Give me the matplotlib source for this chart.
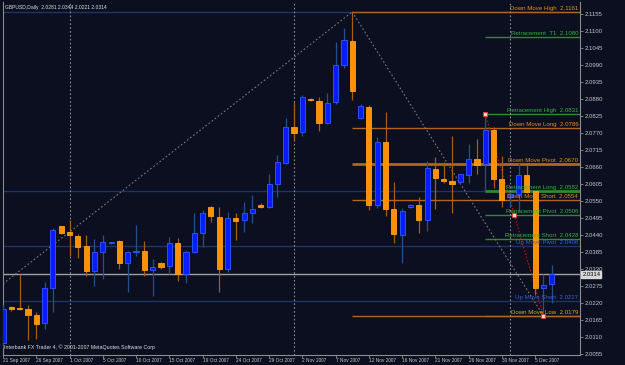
import numpy as np
import matplotlib
matplotlib.use("Agg")
import matplotlib.pyplot as plt
import matplotlib.transforms as mtransforms

# GBPUSD daily bars, 21 Sep 2007 .. 6 Dec 2007 (index 0 .. 66)
opens = [2.0092, 2.0209, 2.0206, 2.0201, 2.0181, 2.0155, 2.0269, 2.0468, 2.0451, 2.0438,
         2.0405, 2.0323, 2.0385, 2.0414, 2.0420, 2.0350, 2.0386, 2.0388, 2.0327, 2.0349,
         2.0341, 2.0414, 2.0314, 2.0386, 2.0446, 2.0530, 2.0500, 2.0330, 2.0495, 2.0489,
         2.0511, 2.0538, 2.0530, 2.0605, 2.0674, 2.0789, 2.0773, 2.0881, 2.0874, 2.0802,
         2.0869, 2.0988, 2.1068, 2.0818, 2.0853, 2.0538, 2.0740, 2.0525, 2.0441, 2.0531,
         2.0538, 2.0489, 2.0653, 2.0621, 2.0615, 2.0613, 2.0635, 2.0685, 2.0669, 2.0780,
         2.0622, 2.0564, 2.0572, 2.0635, 2.0583, 2.0269, 2.0281]
highs = [2.0215, 2.0212, 2.0315, 2.0215, 2.0193, 2.0290, 2.0464, 2.0471, 2.0489, 2.0443,
         2.0441, 2.0427, 2.0441, 2.0419, 2.0425, 2.0390, 2.0473, 2.0421, 2.0363, 2.0354,
         2.0433, 2.0432, 2.0392, 2.0512, 2.0521, 2.0534, 2.0532, 2.0514, 2.0511, 2.0548,
         2.0570, 2.0545, 2.0638, 2.0699, 2.0818, 2.0871, 2.0892, 2.0883, 2.0887, 2.0900,
         2.1065, 2.1108, 2.1161, 2.0864, 2.0861, 2.0756, 2.0839, 2.0613, 2.0529, 2.0540,
         2.0563, 2.0680, 2.0692, 2.0677, 2.0761, 2.0639, 2.0735, 2.0751, 2.0831, 2.0789,
         2.0696, 2.0579, 2.0672, 2.0667, 2.0586, 2.0315, 2.0344]
lows = [2.0076, 2.0196, 2.0199, 2.0102, 2.0105, 2.0136, 2.0193, 2.0443, 2.0373, 2.0366,
        2.0308, 2.0276, 2.0299, 2.0412, 2.0330, 2.0256, 2.0373, 2.0308, 2.0245, 2.0332,
        2.0314, 2.0292, 2.0287, 2.0382, 2.0403, 2.0484, 2.0258, 2.0322, 2.0425, 2.0450,
        2.0479, 2.0527, 2.0527, 2.0564, 2.0670, 2.0748, 2.0761, 2.0872, 2.0777, 2.0799,
        2.0863, 2.0979, 2.0875, 2.0814, 2.0521, 2.0527, 2.0502, 2.0416, 2.0351, 2.0529,
        2.0448, 2.0454, 2.0524, 2.0608, 2.0513, 2.0610, 2.0610, 2.0638, 2.0581, 2.0592,
        2.0530, 2.0532, 2.0518, 2.0575, 2.0247, 2.0179, 2.0221]
closes = [2.0202, 2.0202, 2.0202, 2.0181, 2.0153, 2.0269, 2.0457, 2.0448, 2.0439, 2.0403,
          2.0325, 2.0385, 2.0417, 2.0418, 2.0349, 2.0386, 2.0390, 2.0328, 2.0336, 2.0338,
          2.0414, 2.0314, 2.0386, 2.0446, 2.0511, 2.0503, 2.0330, 2.0494, 2.0487, 2.0511,
          2.0524, 2.0532, 2.0605, 2.0676, 2.0789, 2.0771, 2.0887, 2.0875, 2.0803, 2.0866,
          2.0988, 2.1071, 2.0904, 2.0858, 2.0538, 2.0740, 2.0524, 2.0443, 2.0518, 2.0538,
          2.0489, 2.0656, 2.0624, 2.0615, 2.0605, 2.0637, 2.0685, 2.0667, 2.0780, 2.0622,
          2.0554, 2.0573, 2.0635, 2.0581, 2.0269, 2.0279, 2.0314]

date_ticks = [0, 4, 8, 12, 16, 20, 24, 28, 32, 36, 40, 44, 48, 52, 56, 60, 64]
date_labels = ["21 Sep 2007", "26 Sep 2007", "1 Oct 2007", "5 Oct 2007", "10 Oct 2007",
               "15 Oct 2007", "19 Oct 2007", "24 Oct 2007", "29 Oct 2007", "2 Nov 2007",
               "7 Nov 2007", "12 Nov 2007", "16 Nov 2007", "21 Nov 2007", "26 Nov 2007",
               "30 Nov 2007", "5 Dec 2007"]
month_bars = [8, 35, 61]

price_ticks = [2.0055 + 0.0055 * k for k in range(21)]

# level lines; labels of hidden duplicates (Up Move High/Long, Retracement Low) are
# covered in the original, so only the visible ones get text
up_prices = [2.1161, 2.0584, 2.0406, 2.0227]
up_names = ["", "", "Up Move Pivot", "Up Move Short"]
down_names = ["Down Move High", "Down Move Long", "Down Move Pivot", "Down Move Short", "Down Move Low"]
down_prices = [2.1161, 2.0786, 2.0670, 2.0554, 2.0179]
retr_names = ["Retracement  T1", "Retracement High", "Retracement Long",
              "Retracement Pivot", "Retracement Short", ""]
retr_prices = [2.1080, 2.0831, 2.0582, 2.0506, 2.0428, 2.0179]

up_start, down_start, retr_start = 42, 42, 58
last_price = 2.0314
header = "GBPUSD,Daily  2.0281 2.0344 2.0221 2.0314"
footer = "Interbank FX Trader 4, \u00a9 2001-2007 MetaQuotes Software Corp"

bg = "#0b0f20"
bull, bull_edge, bull_wick = "#0a1cff", "#2a5cff", "#24508f"
bear, bear_edge, bear_wick = "#ff9000", "#ffa020", "#a85c0c"
c_down_line, c_down_txt = "#b3651c", "#e8901a"
c_retr_line, c_retr_txt = "#2f8a2f", "#3cb043"
c_up_line, c_up_txt = "#1f3566", "#3a62d0"
grey = "#8c8c8c"

plt.rcParams["font.family"] = ["Liberation Sans", "DejaVu Sans"]

fig = plt.figure(figsize=(6.25, 3.65), dpi=100, facecolor=bg)
ax = fig.add_axes([3 / 625, 10 / 365, 577 / 625, 353 / 365], facecolor=bg)

o, h, l, c = map(np.array, (opens, highs, lows, closes))
x = np.arange(len(o))
up = c >= o

lab_tr = mtransforms.blended_transform_factory(ax.transAxes, ax.transData)

# horizontal level lines
for p in up_prices:
    ax.axhline(p, color=c_up_line, lw=1, zorder=1)
ax.axhline(last_price, color="#a0a0a0", lw=1, zorder=1)
for name, p in zip(retr_names, retr_prices):
    lw = 2 if "Long" in name else 1
    ax.hlines(p, retr_start, 80, color=c_retr_line, lw=lw, zorder=1)
for name, p in zip(down_names, down_prices):
    lw = 2 if "Pivot" in name else 1
    ax.hlines(p, down_start, 80, color=c_down_line, lw=lw, zorder=1)

# month separators
for b in month_bars:
    ax.axvline(b, color=grey, lw=0.8, ls=(0, (1.5, 2)), zorder=1)

# trend lines
ax.plot([0, up_start], [2.0283, highs[up_start]], color="#7a7a7a", lw=0.8,
        ls=(0, (1.5, 2)), zorder=2)
ax.plot([down_start, 65], [highs[down_start], lows[65]], color="#7a7a7a", lw=0.8,
        ls=(0, (1.5, 2)), zorder=2)
ax.plot([retr_start, 65], [highs[retr_start], lows[65]], color="#c01010", lw=0.9,
        ls=(0, (1.2, 1.5)), zorder=2)
ax.plot([retr_start, 61.45, 65], [highs[retr_start], 2.0506, lows[65]], ls="none",
        marker="s", ms=2.5, mfc="#ffd0d0", mec="#ff3030", mew=0.6, zorder=6)

# candles
body_lo = np.minimum(o, c)
body_h = np.maximum(np.abs(c - o), 0.00012)
ax.vlines(x[up], l[up], h[up], color=bull_wick, lw=0.9, zorder=3)
ax.vlines(x[~up], l[~up], h[~up], color=bear_wick, lw=0.9, zorder=3)
ax.bar(x[up], body_h[up], bottom=body_lo[up], width=0.62, color=bull,
       edgecolor=bull_edge, lw=0.6, zorder=4)
ax.bar(x[~up], body_h[~up], bottom=body_lo[~up], width=0.62, color=bear,
       edgecolor=bear_edge, lw=0.6, zorder=4)

# level labels
def level_label(name, p, col):
    if name:
        ax.text(0.997, p + 0.00025, "%s  %.4f" % (name, p), transform=lab_tr,
                ha="right", va="bottom", fontsize=4.4, color=col, zorder=7)

for name, p in zip(up_names, up_prices):
    level_label(name, p, c_up_txt)
for name, p in zip(retr_names, retr_prices):
    level_label(name, p, c_retr_txt)
for name, p in zip(down_names, down_prices):
    level_label(name, p, "#d8b020" if "Low" in name else c_down_txt)

ax.text(0.003, 0.992, header, transform=ax.transAxes, ha="left", va="top",
        fontsize=3.6, color="#e0e0e0")
ax.text(0.001, 0.014, footer, transform=ax.transAxes, ha="left", va="bottom",
        fontsize=3.8, color="#e0e0e0")

# current price box on the axis
ax.text(1.004, last_price, "%.4f" % last_price, transform=lab_tr, ha="left",
        va="center", fontsize=4.2, color="#000000",
        bbox=dict(boxstyle="square,pad=0.15", fc="#d8d8d8", ec="#d8d8d8"))

ax.set_xlim(0.12, 69.39)
ax.set_ylim(2.0053, 2.1193)

ax.yaxis.tick_right()
ax.set_yticks(price_ticks)
ax.set_yticklabels(["%.4f" % t for t in price_ticks])
ax.set_xticks(date_ticks)
ax.set_xticklabels(date_labels, ha="left")
ax.tick_params(axis="both", colors=grey, labelcolor="#c8c8c8", length=2.5,
               width=0.6, pad=1)
ax.tick_params(axis="y", labelsize=4.3)
ax.tick_params(axis="x", labelsize=3.4, pad=0.5, length=2)
for sp in ax.spines.values():
    sp.set_color(grey)
    sp.set_linewidth(0.8)
ax.spines["top"].set_visible(False)

fig.savefig("out.png", dpi=100, facecolor=bg)
